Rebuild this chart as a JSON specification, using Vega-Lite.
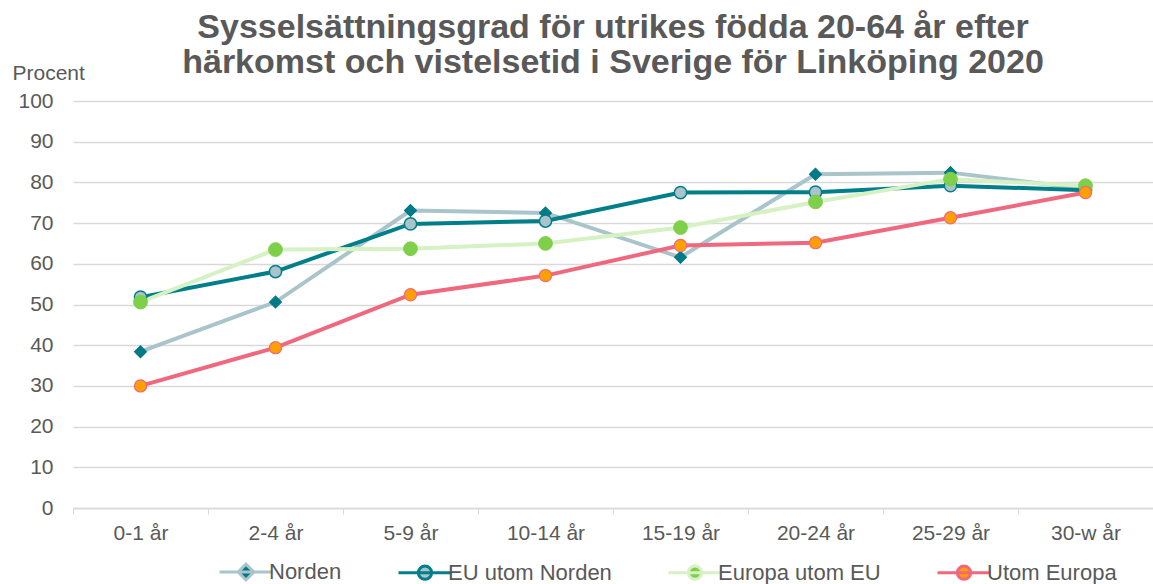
{
  "$schema": "https://vega.github.io/schema/vega-lite/v6.json",
  "width": 1080,
  "height": 407,
  "autosize": {"type": "none"},
  "padding": {"left": 73, "top": 101, "right": 0, "bottom": 76},
  "background": "white",
  "title": {
    "text": ["Sysselsättningsgrad för utrikes födda 20-64 år efter", "härkomst och vistelsetid i Sverige för Linköping 2020"],
    "font": "Liberation Sans",
    "fontSize": 34,
    "fontWeight": "bold",
    "color": "#595959",
    "anchor": "middle",
    "lineHeight": 35,
    "offset": -18
  },
  "config": {"view": {"stroke": null}, "font": "Liberation Sans"},
  "data": {
    "values": [
      {"alder": "0-1 år", "serie": "Norden", "v": 38.4},
      {"alder": "2-4 år", "serie": "Norden", "v": 50.6},
      {"alder": "5-9 år", "serie": "Norden", "v": 73.1},
      {"alder": "10-14 år", "serie": "Norden", "v": 72.5},
      {"alder": "15-19 år", "serie": "Norden", "v": 61.6},
      {"alder": "20-24 år", "serie": "Norden", "v": 82.0},
      {"alder": "25-29 år", "serie": "Norden", "v": 82.4},
      {"alder": "30-w år", "serie": "Norden", "v": 78.4},
      {"alder": "0-1 år", "serie": "EU utom Norden", "v": 51.8},
      {"alder": "2-4 år", "serie": "EU utom Norden", "v": 58.1},
      {"alder": "5-9 år", "serie": "EU utom Norden", "v": 69.8},
      {"alder": "10-14 år", "serie": "EU utom Norden", "v": 70.5},
      {"alder": "15-19 år", "serie": "EU utom Norden", "v": 77.5},
      {"alder": "20-24 år", "serie": "EU utom Norden", "v": 77.6},
      {"alder": "25-29 år", "serie": "EU utom Norden", "v": 79.2},
      {"alder": "30-w år", "serie": "EU utom Norden", "v": 78.1},
      {"alder": "0-1 år", "serie": "Europa utom EU", "v": 50.6},
      {"alder": "2-4 år", "serie": "Europa utom EU", "v": 63.5},
      {"alder": "5-9 år", "serie": "Europa utom EU", "v": 63.7},
      {"alder": "10-14 år", "serie": "Europa utom EU", "v": 65.0},
      {"alder": "15-19 år", "serie": "Europa utom EU", "v": 68.9},
      {"alder": "20-24 år", "serie": "Europa utom EU", "v": 75.2},
      {"alder": "25-29 år", "serie": "Europa utom EU", "v": 80.8},
      {"alder": "30-w år", "serie": "Europa utom EU", "v": 79.2},
      {"alder": "0-1 år", "serie": "Utom Europa", "v": 30.0},
      {"alder": "2-4 år", "serie": "Utom Europa", "v": 39.4},
      {"alder": "5-9 år", "serie": "Utom Europa", "v": 52.4},
      {"alder": "10-14 år", "serie": "Utom Europa", "v": 57.1},
      {"alder": "15-19 år", "serie": "Utom Europa", "v": 64.5},
      {"alder": "20-24 år", "serie": "Utom Europa", "v": 65.2},
      {"alder": "25-29 år", "serie": "Utom Europa", "v": 71.3},
      {"alder": "30-w år", "serie": "Utom Europa", "v": 77.5}
    ]
  },
  "encoding": {
    "x": {
      "field": "alder",
      "type": "nominal",
      "sort": ["0-1 år", "2-4 år", "5-9 år", "10-14 år", "15-19 år", "20-24 år", "25-29 år", "30-w år"],
      "scale": {"paddingInner": 0, "paddingOuter": 0},
      "axis": {
        "title": null,
        "tickBand": "extent",
        "domainColor": "#D9D9D9",
        "domainWidth": 1.3,
        "tickColor": "#D9D9D9",
        "tickSize": 6,
        "labelPadding": 8,
        "labelFont": "Liberation Sans",
        "labelFontSize": 21,
        "labelColor": "#595959",
        "labelAngle": 0,
        "grid": false
      }
    },
    "y": {
      "field": "v",
      "type": "quantitative",
      "scale": {"domain": [0, 100]},
      "axis": {
        "title": "Procent",
        "titleAngle": 0,
        "titleAlign": "left",
        "titleBaseline": "middle",
        "titleX": -61,
        "titleY": -28,
        "titleFont": "Liberation Sans",
        "titleFontSize": 21,
        "titleFontWeight": "normal",
        "titleColor": "#595959",
        "values": [0, 10, 20, 30, 40, 50, 60, 70, 80, 90, 100],
        "domain": false,
        "ticks": false,
        "labelPadding": 20,
        "labelFont": "Liberation Sans",
        "labelFontSize": 21,
        "labelColor": "#595959",
        "gridColor": "#D9D9D9",
        "gridWidth": 1.3
      }
    }
  },
  "layer": [
    {
      "mark": {"type": "line", "strokeWidth": 4},
      "encoding": {
        "color": {
          "field": "serie",
          "type": "nominal",
          "scale": {
            "domain": ["Norden", "EU utom Norden", "Europa utom EU", "Utom Europa"],
            "range": ["#A9C4CB", "#007F8A", "#D6F1C4", "#F0687E"]
          },
          "legend": {
            "orient": "none",
            "legendX": 145,
            "legendY": 443,
            "direction": "horizontal",
            "title": null,
            "labelFont": "Liberation Sans",
            "labelFontSize": 22,
            "labelLimit": 400,
            "labelColor": "#595959",
            "labelOffset": -5,
            "columnPadding": 50,
            "symbolSize": 2809,
            "symbolStrokeWidth": 3,
            "symbolType": "circle",
            "encode": {
              "symbols": {
                "update": {
                  "shape": {"signal": "datum.value === 'Norden' ? 'M-1,0L-0.3,0L0,-0.3L0.3,0L1,0M0.3,0L0,0.3L-0.3,0Z' : 'M-1,0L-0.25,0A0.25,0.25,0,1,1,0.25,0L1,0M0.25,0A0.25,0.25,0,1,1,-0.25,0Z'"},
                  "fill": {"signal": "datum.value === 'Norden' ? '#007A87' : datum.value === 'EU utom Norden' ? '#A9C4CB' : datum.value === 'Europa utom EU' ? '#7ED04B' : '#FF9F00'"},
                  "size": {"value": 2809},
                  "strokeWidth": {"value": 3},
                  "opacity": {"value": 1}
                }
              }
            }
          }
        }
      }
    },
    {
      "transform": [{"filter": "datum.serie === 'Norden'"}],
      "mark": {"type": "point", "filled": true, "shape": "diamond", "size": 140, "fill": "#007A87", "stroke": "#007A87", "strokeWidth": 1.2, "opacity": 1},
      "encoding": {}
    },
    {
      "transform": [{"filter": "datum.serie === 'EU utom Norden'"}],
      "mark": {"type": "point", "filled": true, "shape": "circle", "size": 150, "fill": "#A9C4CB", "stroke": "#007F8A", "strokeWidth": 1.5, "opacity": 1},
      "encoding": {}
    },
    {
      "transform": [{"filter": "datum.serie === 'Europa utom EU'"}],
      "mark": {"type": "point", "filled": true, "shape": "circle", "size": 190, "fill": "#7ED04B", "stroke": "#7ED04B", "strokeWidth": 1, "opacity": 1},
      "encoding": {}
    },
    {
      "transform": [{"filter": "datum.serie === 'Utom Europa'"}],
      "mark": {"type": "point", "filled": true, "shape": "circle", "size": 150, "fill": "#FF9F00", "stroke": "#F0687E", "strokeWidth": 1.2, "opacity": 1},
      "encoding": {}
    }
  ]
}
